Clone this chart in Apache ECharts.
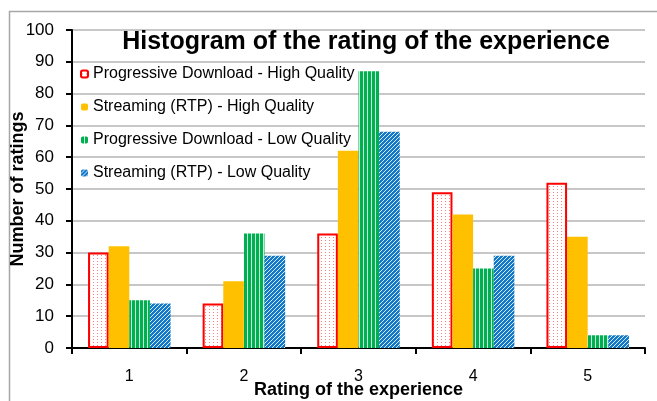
<!DOCTYPE html>
<html><head><meta charset="utf-8">
<script src="https://cdn.jsdelivr.net/npm/echarts@6/dist/echarts.min.js"></script>
<style>html,body{margin:0;padding:0;background:#fff}#c{width:657px;height:401px}</style>
</head><body><div id="c"></div><script>
const categories = ['1', '2', '3', '4', '5'];
const seriesNames = [
  'Progressive Download - High Quality',
  'Streaming (RTP) - High Quality',
  'Progressive Download - Low Quality',
  'Streaming (RTP) - Low Quality'
];
const pdHigh = [30, 14, 36, 49, 52];
const rtpHigh = [32, 21, 62, 42, 35];
const pdLow = [15, 36, 87, 25, 4];
const rtpLow = [14, 29, 68, 29, 4];
const yMin = 0, yMax = 100, yStep = 10;

function mk(w, h, draw) {
  const c = document.createElement('canvas');
  c.width = w; c.height = h;
  draw(c.getContext('2d'));
  return c;
}
const dotPat = mk(4, 3, g => {
  g.fillStyle = '#ffffff'; g.fillRect(0, 0, 4, 3);
  g.fillStyle = '#ff8080'; g.fillRect(1, 0, 1, 1);
});
const stripePat = mk(4, 4, g => {
  g.fillStyle = '#00b050'; g.fillRect(0, 0, 4, 4);
  g.fillStyle = '#c8f0d8'; g.fillRect(3, 0, 1, 4);
});
const diagPat = mk(4, 4, g => {
  g.fillStyle = '#1478c8'; g.fillRect(0, 0, 4, 4);
  g.fillStyle = '#d8ecfa';
  g.fillRect(3, 0, 1, 1); g.fillRect(2, 1, 1, 1); g.fillRect(1, 2, 1, 1); g.fillRect(0, 3, 1, 1);
});

const styles = [
  { color: { image: dotPat, repeat: 'repeat' }, borderColor: '#ff0000', borderWidth: 2 },
  { color: '#ffc000' },
  { color: { image: stripePat, repeat: 'repeat' } },
  { color: { image: diagPat, repeat: 'repeat' } }
];
const values = [pdHigh, rtpHigh, pdLow, rtpLow];

const chart = echarts.init(document.getElementById('c'));
chart.setOption({
  animation: false,
  backgroundColor: '#ffffff',
  textStyle: { fontFamily: 'Liberation Sans, Arial, sans-serif' },
  graphic: [{
    type: 'rect', left: 7, top: 9, shape: { width: 700, height: 500 },
    style: { fill: 'none', stroke: '#a6a6a6', lineWidth: 1.5 }, silent: true
  }],
  title: {
    text: 'Histogram of the rating of the experience',
    left: 361, top: 25, textAlign: 'center',
    textStyle: { fontSize: 25, fontWeight: 'bold', color: '#000', fontFamily: 'Liberation Sans, Arial, sans-serif' }
  },
  legend: {
    orient: 'vertical', left: 75, top: 61,
    itemWidth: 7, itemHeight: 7, itemGap: 17,
    textStyle: { fontSize: 16, color: '#000' },
    data: seriesNames
  },
  grid: { left: 72, right: 12, top: 30, bottom: 53, containLabel: false, outerBoundsMode: 'none' },
  xAxis: {
    type: 'category', data: categories,
    name: 'Rating of the experience', nameLocation: 'middle', nameGap: 33, nameMoveOverlap: false,
    nameTextStyle: { fontSize: 18, fontWeight: 'bold', color: '#000' },
    axisLine: { lineStyle: { color: '#000', width: 2 } },
    axisTick: { show: true, length: 6, lineStyle: { color: '#000', width: 2 } },
    axisLabel: { fontSize: 16, color: '#000', margin: 21 }
  },
  yAxis: {
    type: 'value', min: yMin, max: yMax, interval: yStep,
    name: 'Number of ratings', nameLocation: 'middle', nameGap: 45, nameMoveOverlap: false,
    nameTextStyle: { fontSize: 18, fontWeight: 'bold', color: '#000' },
    axisLine: { show: true, lineStyle: { color: '#000', width: 2 } },
    axisTick: { show: true, length: 6, lineStyle: { color: '#000', width: 2 } },
    axisLabel: { fontSize: 17, color: '#000', margin: 18 },
    splitLine: { lineStyle: { color: '#b4b4b4', width: 1.5 } }
  },
  series: seriesNames.map((n, i) => ({
    name: n, type: 'bar', data: values[i],
    barGap: '0%', barCategoryGap: '28%',
    itemStyle: styles[i]
  }))
});
</script></body></html>
